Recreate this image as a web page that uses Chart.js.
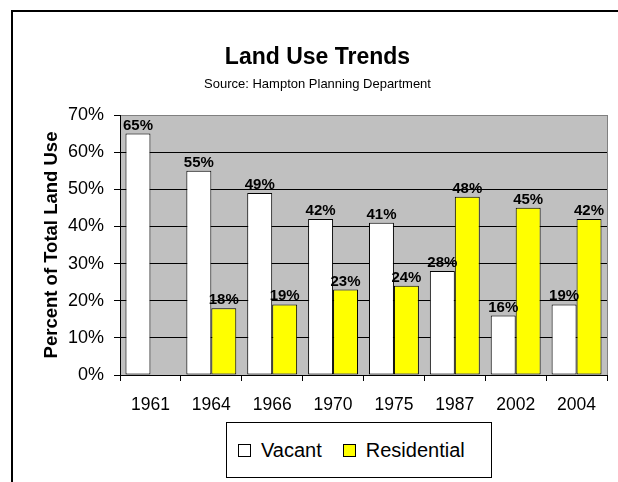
<!DOCTYPE html>
<html>
<head>
<meta charset="utf-8">
<script src="https://cdn.jsdelivr.net/npm/chart.js@4.4.1/dist/chart.umd.min.js"></script>
<style>
    body { margin: 0; background: #fff; font-family: Arial, "Liberation Sans", sans-serif; }
    #wrap { position: relative; width: 618px; height: 482px; overflow: hidden; }
    #frame { position: absolute; left: 11px; top: 10px; width: 700px; height: 600px; border: 2px solid #000; }
    canvas { position: absolute; left: 0; top: 0; }
    .title { position: absolute; left: 0; width: 635px; text-align: center; color: #000; white-space: nowrap; }
    #mainTitle { top: 45px; font-size: 23px; line-height: 23px; font-weight: bold; }
    #subTitle { top: 77px; font-size: 13px; line-height: 13px; }
    #legend {
        position: absolute; left: 226px; top: 422px; width: 253px; height: 54px;
        border: 1px solid #000; background: #fff;
        display: flex; align-items: center; padding-left: 11px; box-sizing: content-box;
        font-size: 20px; color: #000;
    }
    #legend .item { display: flex; align-items: center; margin-right: 21px; }
    #legend .box { width: 11px; height: 11px; border: 1px solid #000; margin-right: 10px; }
</style>
</head>
<body>
<div id="wrap">
    <div id="frame"></div>
    <canvas id="landChart" width="618" height="482"></canvas>
    <div class="title" id="mainTitle">Land Use Trends</div>
    <div class="title" id="subTitle">Source: Hampton Planning Department</div>
    <div id="legend"></div>
</div>
<script>
// Chart data
const years = ['1961', '1964', '1966', '1970', '1975', '1987', '2002', '2004'];
const seriesNames = ['Vacant', 'Residential'];
const vacant = [65, 55, 49, 42, 41, 28, 16, 19];
const residential = [null, 18, 19, 23, 24, 48, 45, 42];
const seriesColors = ['#FFFFFF', '#FFFF00'];

// Gray plot area with a thin gray frame on the right
const plotBackground = {
    id: 'plotBackground',
    beforeDraw(chart) {
        const { ctx, chartArea } = chart;
        ctx.save();
        ctx.fillStyle = '#C0C0C0';
        ctx.fillRect(chartArea.left, chartArea.top, chartArea.right - chartArea.left, chartArea.bottom - chartArea.top);
        ctx.strokeStyle = '#808080';
        ctx.lineWidth = 1;
        ctx.beginPath();
        ctx.moveTo(chartArea.right + 0.5, chartArea.top);
        ctx.lineTo(chartArea.right + 0.5, chartArea.bottom);
        ctx.stroke();
        ctx.restore();
    }
};

// Percent labels above each bar
const barLabels = {
    id: 'barLabels',
    afterDatasetsDraw(chart) {
        const ctx = chart.ctx;
        ctx.save();
        ctx.font = 'bold 15px Arial, "Liberation Sans", sans-serif';
        ctx.fillStyle = '#000';
        ctx.textAlign = 'center';
        ctx.textBaseline = 'alphabetic';
        chart.data.datasets.forEach((ds, i) => {
            const meta = chart.getDatasetMeta(i);
            meta.data.forEach((bar, j) => {
                const v = ds.data[j];
                if (v === null || v === undefined) return;
                ctx.fillText(v + '%', bar.x, bar.y - 4);
            });
        });
        ctx.restore();
    }
};

const ctx = document.getElementById('landChart').getContext('2d');
const landChart = new Chart(ctx, {
    type: 'bar',
    data: {
        labels: years,
        datasets: [
            {
                label: seriesNames[0],
                data: vacant,
                backgroundColor: seriesColors[0],
                borderColor: '#000',
                borderWidth: 1,
                borderSkipped: false
            },
            {
                label: seriesNames[1],
                data: residential,
                backgroundColor: seriesColors[1],
                borderColor: '#000',
                borderWidth: 1,
                borderSkipped: false
            }
        ]
    },
    options: {
        responsive: false,
        animation: false,
        categoryPercentage: 0.82,
        barPercentage: 1,
        layout: {
            padding: { left: 0, top: 115, right: 11, bottom: 67 }
        },
        scales: {
            x: {
                afterFit: s => { s.height = 40; },
                grid: {
                    offset: true,
                    drawOnChartArea: false,
                    drawTicks: true,
                    tickLength: 6,
                    tickColor: '#000'
                },
                border: { color: '#000', width: 1 },
                ticks: {
                    color: '#000',
                    padding: 14,
                    maxRotation: 0,
                    font: { family: 'Arial, "Liberation Sans", sans-serif', size: 17.5 }
                }
            },
            y: {
                min: 0,
                max: 70,
                afterFit: s => { s.width = 120; },
                grid: {
                    color: c => (c.tick && c.tick.value === 70 ? '#808080' : '#000'),
                    tickColor: '#000',
                    tickLength: 6
                },
                border: { color: '#000', width: 1 },
                ticks: {
                    stepSize: 10,
                    color: '#000',
                    padding: 10,
                    callback: v => v + '%',
                    font: { family: 'Arial, "Liberation Sans", sans-serif', size: 18 }
                },
                title: {
                    display: true,
                    text: 'Percent of Total Land Use',
                    color: '#000',
                    padding: { top: 41, bottom: 0 },
                    font: { family: 'Arial, "Liberation Sans", sans-serif', size: 18.5, weight: 'bold' }
                }
            }
        },
        plugins: {
            legend: { display: false },
            title: { display: false },
            tooltip: { enabled: false }
        }
    },
    plugins: [plotBackground, barLabels]
});

// Legend box built from the series
const legendEl = document.getElementById('legend');
seriesNames.forEach((name, i) => {
    const item = document.createElement('div');
    item.className = 'item';
    const box = document.createElement('div');
    box.className = 'box';
    box.style.background = seriesColors[i];
    const text = document.createElement('span');
    text.textContent = name;
    item.appendChild(box);
    item.appendChild(text);
    legendEl.appendChild(item);
});
</script>
</body>
</html>
